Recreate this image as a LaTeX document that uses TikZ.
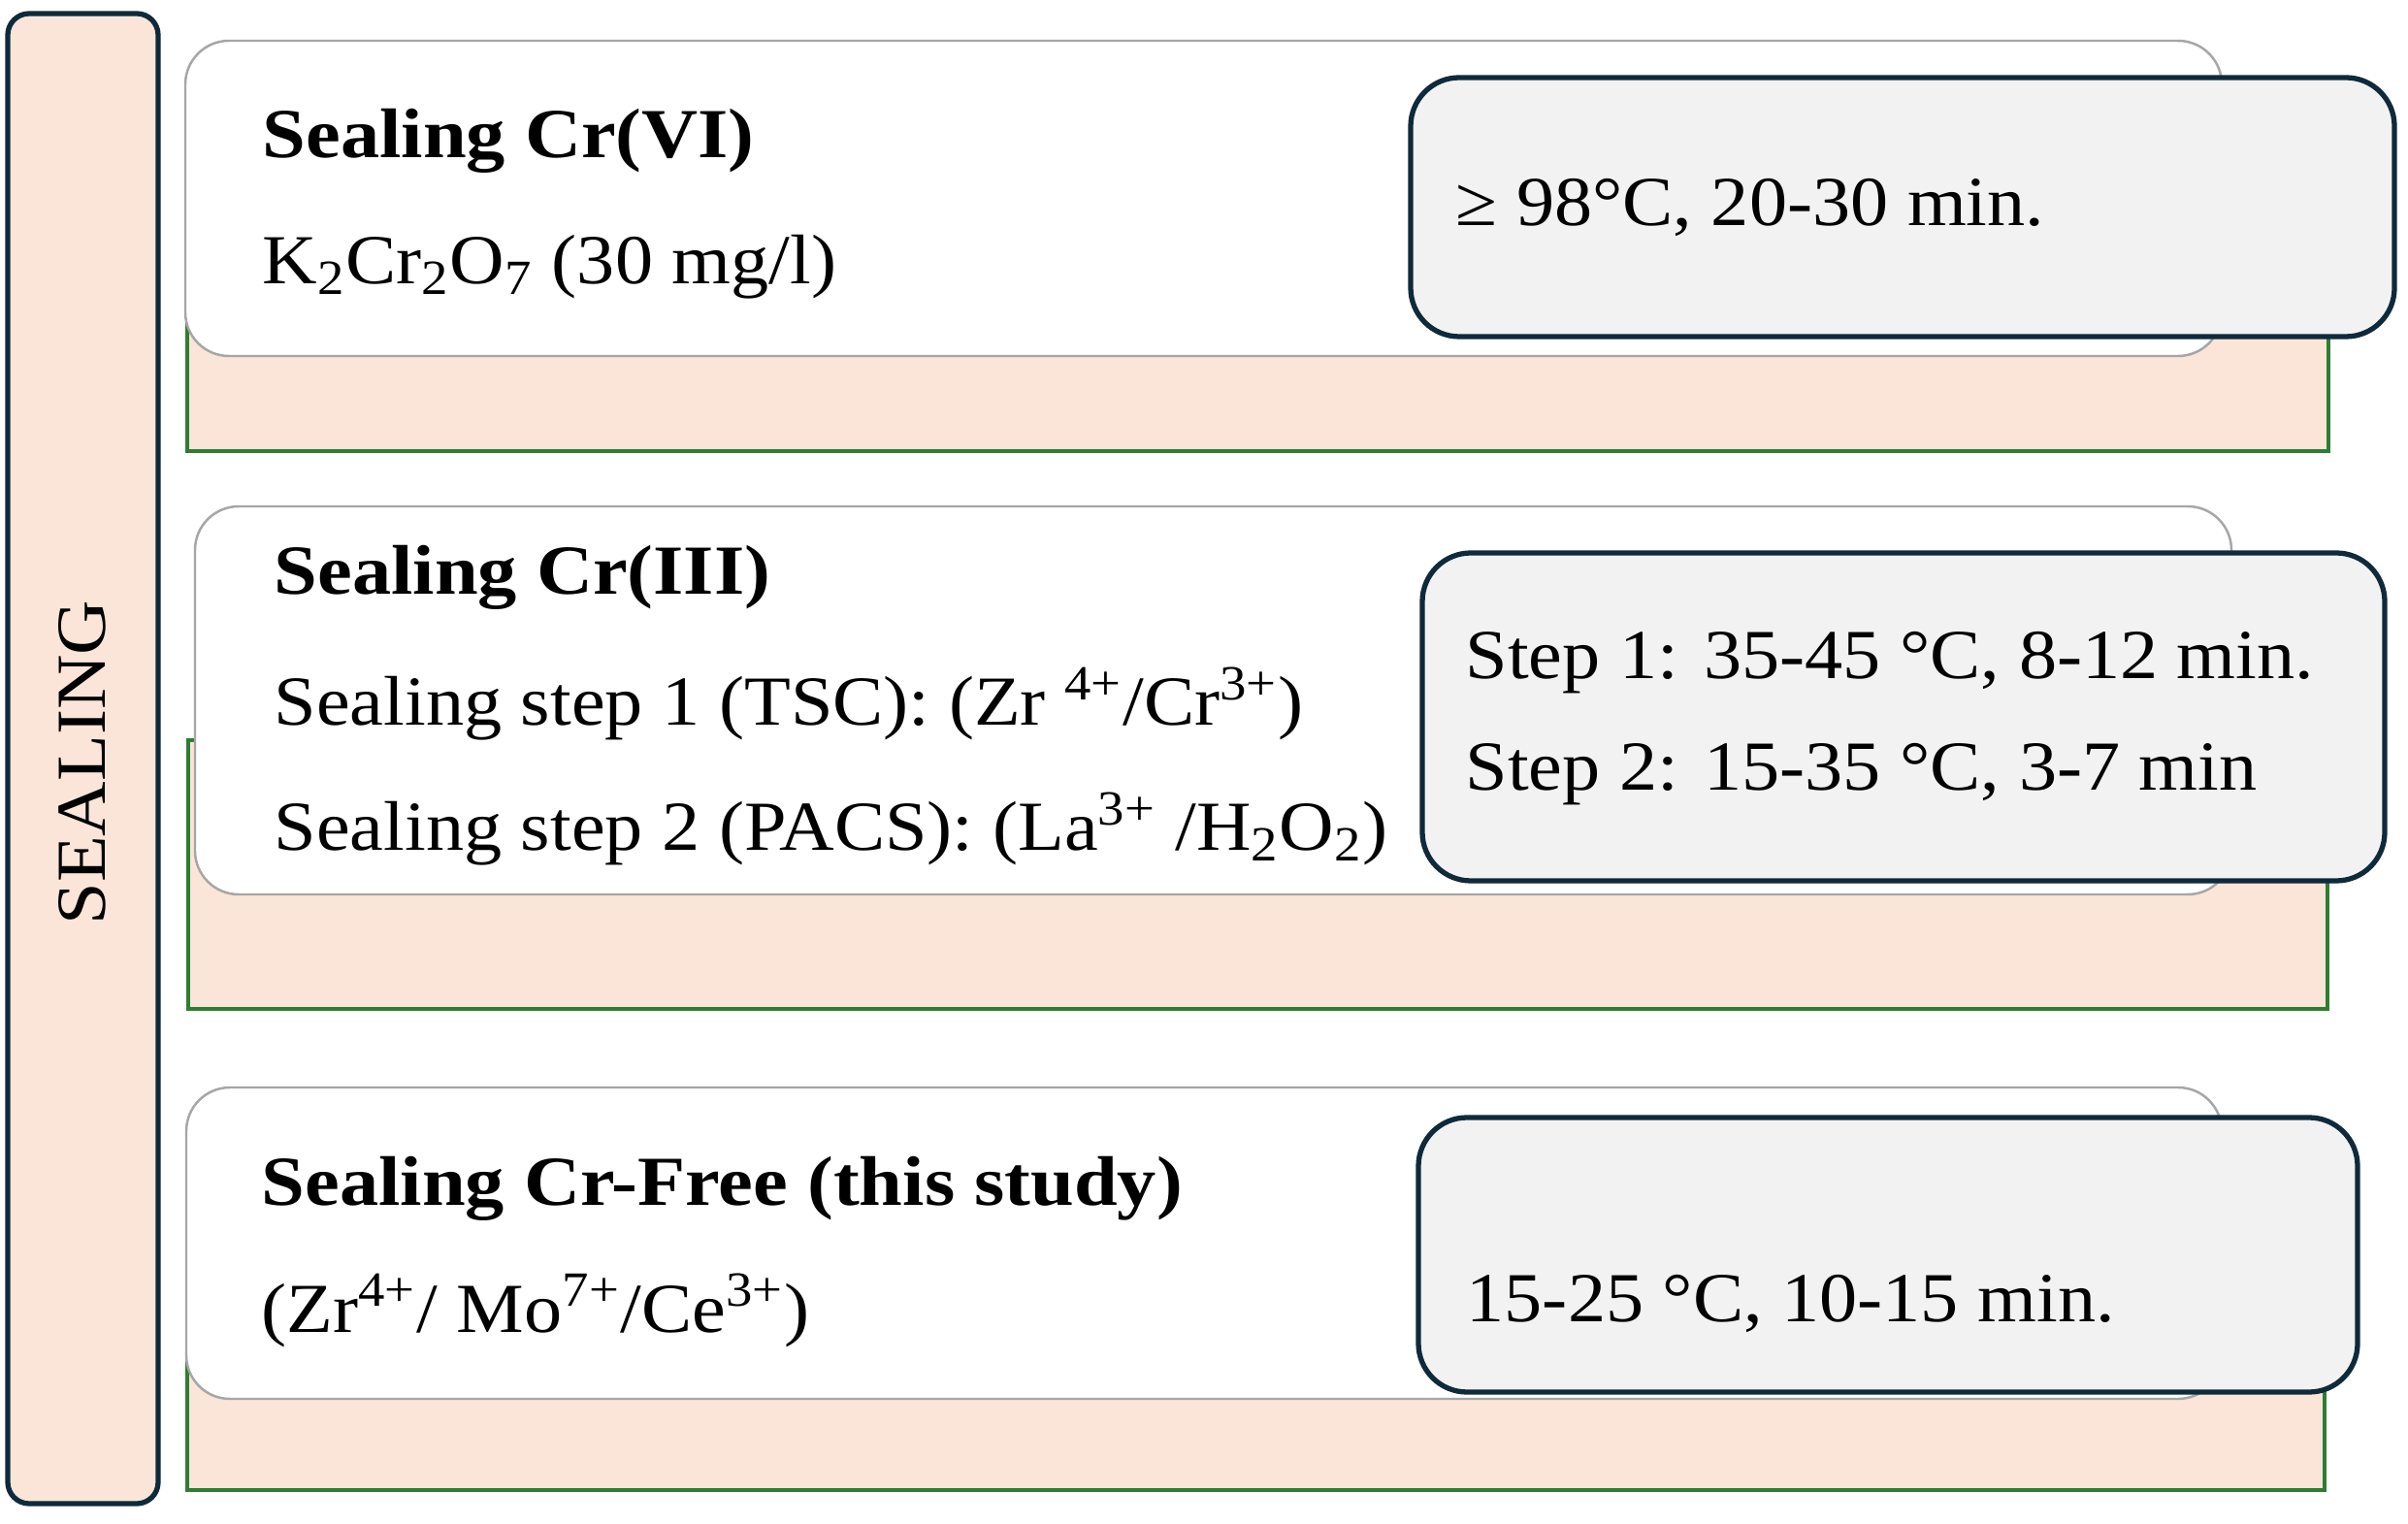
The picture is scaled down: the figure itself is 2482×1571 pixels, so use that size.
\documentclass[tikz,border=0pt]{standalone}
\usepackage{fontspec}
\setmainfont{Liberation Serif}[FakeStretch=1.08,BoldFeatures={FakeStretch=1.11}]
\definecolor{peach}{HTML}{FAE5D8}
\definecolor{navy}{HTML}{0E2A3B}
\definecolor{grn}{HTML}{2E7D32}
\definecolor{lgray}{HTML}{F2F2F2}
\definecolor{wborder}{HTML}{A6A6A6}
\begin{document}
\begin{tikzpicture}[x=0.01cm,y=-0.01cm,
  sidebar/.style={fill=peach,draw=navy,line width=1.5pt,rounded corners=0.22cm},
  peachbox/.style={fill=peach,draw=grn,line width=1.2pt},
  whitebox/.style={fill=white,draw=wborder,line width=0.7pt,rounded corners=0.45cm},
  condbox/.style={fill=lgray,draw=navy,line width=1.5pt,rounded corners=0.5cm},
  txt/.style={anchor=base west,inner sep=0pt,font=\fontsize{20.6}{24}\selectfont},
  btxt/.style={txt,font=\fontsize{20.6}{24}\selectfont\bfseries}]
\useasboundingbox (0,0) rectangle (2482,1571);
\fill[white] (0,0) rectangle (2482,1571);
% side bar
\path[sidebar] (8,14) rectangle (163,1550);
\node[rotate=90,inner sep=0pt,font=\fontsize{20.6}{24}\selectfont] (seal) at (85,786) {SEALING};
% row 1
\path[peachbox] (193,200) rectangle (2400,465);
\path[whitebox] (191,42) rectangle (2290,367);
\path[condbox] (1454,80) rectangle (2468,347);
\node[btxt] (t1a) at (270,163) {Sealing Cr(VI)};
\node[txt] (t1b) at (270,293) {K\textsubscript{2}Cr\textsubscript{2}O\textsubscript{7} (30 mg/l)};
\node[txt] (c1) at (1500,233) {≥ 98°C, 20-30 min.};
% row 2
\path[peachbox] (194,763) rectangle (2399,1040);
\path[whitebox] (201,522) rectangle (2300,922);
\path[condbox] (1466,570) rectangle (2458,908);
\node[btxt] (t2a) at (282,613) {Sealing Cr(III)};
\node[txt] (t2b) at (282,748) {Sealing step 1 (TSC): (Zr \textsuperscript{4+}/Cr\textsuperscript{3+})};
\node[txt] (t2c) at (282,877) {Sealing step 2 (PACS): (La\textsuperscript{3+} /H\textsubscript{2}O\textsubscript{2})};
\node[txt] (c2a) at (1510,700) {Step 1: 35-45 °C, 8-12 min.};
\node[txt] (c2b) at (1510,815) {Step 2: 15-35 °C, 3-7 min};
% row 3
\path[peachbox] (193,1250) rectangle (2396,1536);
\path[whitebox] (192,1121) rectangle (2290,1442);
\path[condbox] (1462,1152) rectangle (2430,1435);
\node[btxt] (t3a) at (269,1242) {Sealing Cr-Free (this study)};
\node[txt] (t3b) at (269,1373) {(Zr\textsuperscript{4+}/ Mo\textsuperscript{7+}/Ce\textsuperscript{3+})};
\node[txt] (c3) at (1511,1362) {15-25 °C, 10-15 min.};
\end{tikzpicture}
\end{document}
